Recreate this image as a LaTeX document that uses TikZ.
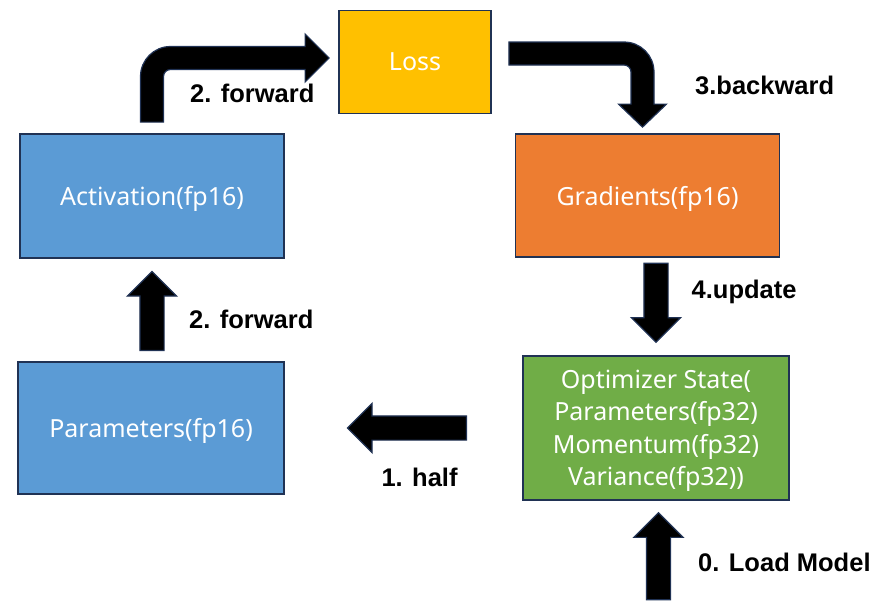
\documentclass[tikz,border=0pt]{standalone}
\usepackage{fontspec}
\setmainfont{Noto Sans}
\newfontfamily\lblfont{Liberation Sans}
\usetikzlibrary{positioning,calc,shapes.arrows}

\definecolor{edge}{HTML}{203254}
\definecolor{actblue}{HTML}{5B9BD5}
\definecolor{gradorange}{HTML}{ED7D31}
\definecolor{optgreen}{HTML}{70AD47}
\definecolor{lossyellow}{HTML}{FFC000}

\tikzset{
  box/.style={draw=edge, line width=1.8pt, text=white, align=center, inner sep=0pt,
    text depth=0pt, font=\fontsize{25}{32.5}\selectfont},
  bent/.style={draw=edge, fill=black, line width=1.2pt, line join=miter},
  bigarrow/.style={single arrow, draw=edge, fill=black, line width=1.2pt,
    inner sep=11.5pt, single arrow head extend=12.5pt},
  lbl/.style={inner sep=0pt, text height=18pt, text depth=0pt, anchor=west,
    font=\lblfont\fontsize{25.5}{28}\selectfont\bfseries}
}

\begin{document}
\begin{tikzpicture}[x=1pt, y=-1pt]
\useasboundingbox (0,0) rectangle (886,608);

%Declare nodes.
\node[box, fill=lossyellow, minimum width=152pt, minimum height=103pt] (loss) at (415,62) {Loss};
\node[box, fill=actblue, minimum width=264pt, minimum height=124pt] (act) at (152,196) {Activation(fp16)};
\node[box, fill=gradorange, minimum width=264pt, minimum height=123pt] (grad) at (647.5,195.5) {Gradients(fp16)};
\node[box, fill=actblue, minimum width=266pt, minimum height=132pt] (params) at (151,428) {Parameters(fp16)};
\node[box, fill=optgreen, minimum width=266pt, minimum height=144pt] (opt) at (656,428)
  {Optimizer State(\\Parameters(fp32)\\Momentum(fp32)\\Variance(fp32))};

%Straight arrows.
\node[bigarrow, shape border rotate=90, minimum height=79pt, above=10pt of params, xshift=1pt] (fwd) {};
\node[bigarrow, shape border rotate=270, minimum height=79pt, above=12pt of opt] (upd) {};
\node[bigarrow, shape border rotate=180, minimum height=119pt, left=55pt of opt] (half) {};
\node[bigarrow, shape border rotate=90, minimum height=87pt, below=11pt of opt, xshift=2.5pt] (load) {};

%Bent arrows.
\coordinate (a1) at ($(act.north)+(0,-11)$);
\coordinate (a2) at ($(loss.west)+(-9,-4)$);
\draw[bent] ($(a1)+(-11.5,0)$) -- ($(a1|-a2)+(-11.5,18.5)$) arc[start angle=180, end angle=270, radius=30]
  -- ($(a2)+(-24,-11.5)$) -- ++(0,-12.5) -- (a2) -- ++(-24,24) -- ++(0,-12.5)
  -- ($(a1|-a2)+(18.5,11.5)$) arc[start angle=270, end angle=180, radius=7]
  -- ($(a1)+(11.5,0)$) -- cycle;

\coordinate (b1) at ($(loss.east)+(17,-8.5)$);
\coordinate (b2) at ($(grad.north)+(-5,-6)$);
\draw[bent] ($(b1)+(0,-11.5)$) -- ($(b1-|b2)+(-18.5,-11.5)$) arc[start angle=270, end angle=360, radius=30]
  -- ($(b2)+(11.5,-23)$) -- ++(12.5,0) -- (b2) -- ++(-24,-23) -- ++(12.5,0)
  -- ($(b1-|b2)+(-11.5,18.5)$) arc[start angle=0, end angle=-90, radius=7]
  -- ($(b1)+(0,11.5)$) -- cycle;

%Labels.
\node[lbl] (fwdtop) at ($(act.north)+(38,-40)$) {2. forward};
\node[lbl] (fwdlow) at ($(fwd)+(37,2)$) {2. forward};
\node[lbl] (back) at ($(grad.north)+(47.5,-48)$) {3.backward};
\node[lbl] (updlbl) at ($(upd)+(35.5,-7)$) {4.update};
\node[lbl, anchor=center] (halflbl) at ($(half)+(6.5,49.5)$) {1. half};
\node[lbl] (loadlbl) at ($(load)+(39.5,0.5)$) {0. Load Model};

\end{tikzpicture}
\end{document}
